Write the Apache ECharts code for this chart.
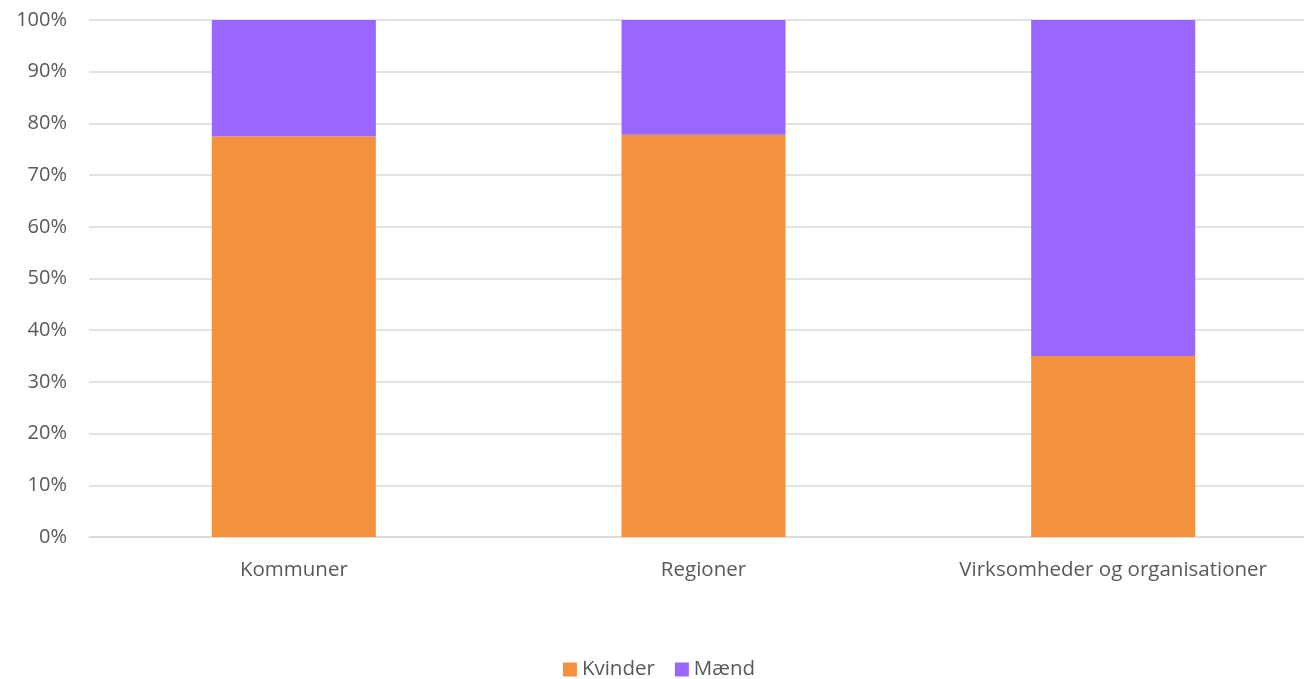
<!DOCTYPE html>
<html><head><meta charset="utf-8">
<script src="https://cdn.jsdelivr.net/npm/echarts@6/dist/echarts.min.js"></script>
<style>html,body{margin:0;padding:0;background:#fff;overflow:hidden;width:1304px;height:679px;}#c{width:1318px;height:679px;}</style>
</head><body><div id="c"></div>
<script>
const categories = ["Kommuner", "Regioner", "Virksomheder og organisationer"];
const kvinder = [77.5, 77.8, 35.0];
const maend = [22.5, 22.2, 65.0];
const yTicks = [0, 10, 20, 30, 40, 50, 60, 70, 80, 90, 100];

const chart = echarts.init(document.getElementById('c'));
const font = "'Open Sans', 'Noto Sans', sans-serif";
chart.setOption({
  animation: false,
  textStyle: { fontFamily: font },
  grid: { left: 89, top: 20, right: 0, height: 517, containLabel: false },
  xAxis: {
    type: 'category', data: categories,
    axisLine: { lineStyle: { color: '#d9d9d9', width: 1.5 } },
    axisTick: { show: false },
    axisLabel: { color: '#595959', fontSize: 20.5, margin: 23, fontFamily: font }
  },
  yAxis: {
    type: 'value', min: 0, max: 100, interval: 10,
    axisLabel: { color: '#595959', fontSize: 20, margin: 22, fontFamily: font,
      formatter: v => yTicks.includes(v) ? v + '%' : '' },
    splitLine: { lineStyle: { color: '#d9d9d9', width: 1.5 } },
    axisLine: { show: false }, axisTick: { show: false }
  },
  legend: {
    top: 654, left: 'center', itemWidth: 14, itemHeight: 14, itemGap: 20,
    icon: 'rect',
    textStyle: { color: '#595959', fontSize: 20.5, fontFamily: font },
    data: ['Kvinder', 'Mænd']
  },
  series: [
    { name: 'Kvinder', type: 'bar', stack: 's', data: kvinder, barWidth: 164,
      itemStyle: { color: '#F4913E' } },
    { name: 'Mænd', type: 'bar', stack: 's', data: maend, barWidth: 164,
      itemStyle: { color: '#9966FF' } }
  ]
});
</script></body></html>
